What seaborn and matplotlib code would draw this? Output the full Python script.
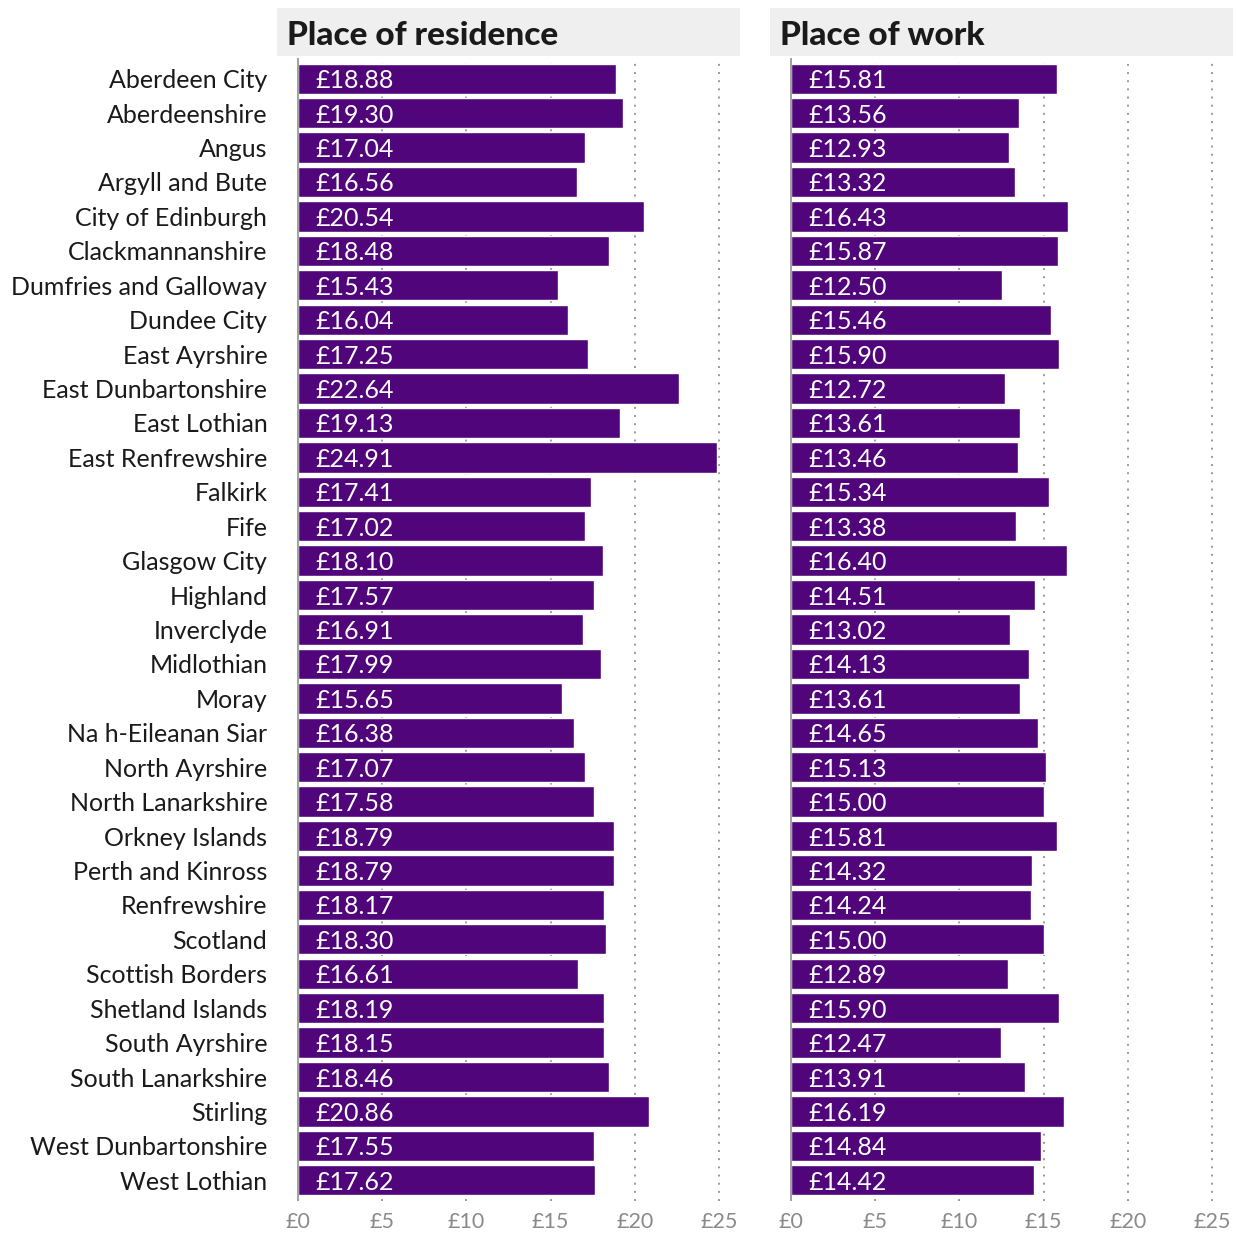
import matplotlib
matplotlib.use("Agg")
import matplotlib.pyplot as plt
import seaborn as sns
import pandas as pd
from matplotlib.patches import Rectangle

areas = ["Aberdeen City", "Aberdeenshire", "Angus", "Argyll and Bute", "City of Edinburgh",
         "Clackmannanshire", "Dumfries and Galloway", "Dundee City", "East Ayrshire",
         "East Dunbartonshire", "East Lothian", "East Renfrewshire", "Falkirk", "Fife",
         "Glasgow City", "Highland", "Inverclyde", "Midlothian", "Moray", "Na h-Eileanan Siar",
         "North Ayrshire", "North Lanarkshire", "Orkney Islands", "Perth and Kinross",
         "Renfrewshire", "Scotland", "Scottish Borders", "Shetland Islands", "South Ayrshire",
         "South Lanarkshire", "Stirling", "West Dunbartonshire", "West Lothian"]

residence = [18.88, 19.30, 17.04, 16.56, 20.54, 18.48, 15.43, 16.04, 17.25, 22.64, 19.13,
             24.91, 17.41, 17.02, 18.10, 17.57, 16.91, 17.99, 15.65, 16.38, 17.07, 17.58,
             18.79, 18.79, 18.17, 18.30, 16.61, 18.19, 18.15, 18.46, 20.86, 17.55, 17.62]

work = [15.81, 13.56, 12.93, 13.32, 16.43, 15.87, 12.50, 15.46, 15.90, 12.72, 13.61,
        13.46, 15.34, 13.38, 16.40, 14.51, 13.02, 14.13, 13.61, 14.65, 15.13, 15.00,
        15.81, 14.32, 14.24, 15.00, 12.89, 15.90, 12.47, 13.91, 16.19, 14.84, 14.42]

panel_titles = ["Place of residence", "Place of work"]
x_ticks = [0, 5, 10, 15, 20, 25]
x_tick_labels = ["£0", "£5", "£10", "£15", "£20", "£25"]

sns.set_theme(style="white")
plt.rcParams["font.family"] = ["Lato", "DejaVu Sans"]

W, H = 1236, 1233
fig = plt.figure(figsize=(W / 100, H / 100), dpi=100)

bar_color = "#50067a"
panels = [(residence, 277), (work, 770)]
ax_top, ax_bottom = 58, 1201
ax_w = 463

for i, (vals, left_px) in enumerate(panels):
    ax = fig.add_axes([left_px / W, 1 - ax_bottom / H, ax_w / W, (ax_bottom - ax_top) / H])
    df = pd.DataFrame({"area": areas, "value": vals})
    for xv in x_ticks[1:]:
        ax.axvline(xv, color="#999999", linestyle=(0, (1, 3.2)), linewidth=1.4, zorder=0)
    sns.barplot(data=df, x="value", y="area", orient="h", color=bar_color,
                saturation=1, width=0.88, ax=ax, zorder=2)
    ax.axvline(0, color="#999999", linewidth=1.3, zorder=3)
    ax.set_xlim(-1.25, 26.25)
    ax.set_ylim(len(areas) - 0.4, -0.6)
    ax.set_xlabel("")
    ax.set_ylabel("")
    ax.set_xticks(x_ticks)
    ax.set_xticklabels(x_tick_labels, color="#8a8a8a", fontsize=15.5)
    ax.tick_params(axis="x", length=0, pad=8)
    if i == 0:
        ax.tick_params(axis="y", length=0, pad=7, labelsize=18, labelcolor="#1a1a1a")
        for lbl in ax.get_yticklabels():
            lbl.set_verticalalignment("center_baseline")
    else:
        ax.set_yticklabels([])
        ax.tick_params(axis="y", length=0)
    for s in ax.spines.values():
        s.set_visible(False)
    for j, v in enumerate(vals):
        ax.text(1.0, j, f"£{v:.2f}", color="white", fontsize=18,
                ha="left", va="center_baseline", zorder=4)

    # strip header
    fig.patches.append(Rectangle((left_px / W, 1 - 56 / H), ax_w / W, 48 / H,
                                 transform=fig.transFigure, facecolor="#efefef",
                                 edgecolor="none", zorder=0))
    fig.text((left_px + 10) / W, 1 - 33 / H, panel_titles[i], fontsize=24,
             fontweight="black", color="#1a1a1a", ha="left", va="center_baseline")

fig.savefig("out.png", dpi=100)
